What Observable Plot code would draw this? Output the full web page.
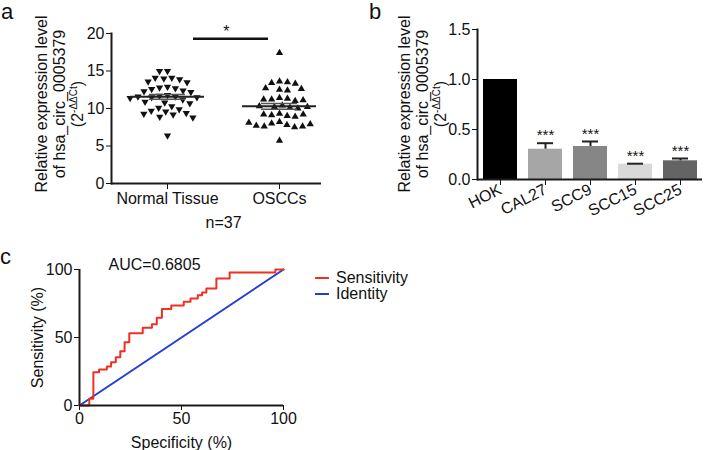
<!DOCTYPE html>
<html><head><meta charset="utf-8">
<script src="https://cdn.jsdelivr.net/npm/d3@7"></script>
<script src="https://cdn.jsdelivr.net/npm/@observablehq/plot@0.6"></script>
<style>
body{margin:0;background:#fff;}
#fig{position:relative;width:707px;height:450px;font-family:"Liberation Sans",Arial,sans-serif;color:#111;overflow:hidden;background:#fff;}
#fig svg{position:absolute;background:transparent;}
.lbl{position:absolute;font-size:22px;line-height:24px;}
.ytitle{position:absolute;width:210px;height:54px;font-size:16px;line-height:18px;text-align:center;transform:rotate(-90deg);white-space:nowrap;}
.ytitle sup{font-size:10px;line-height:0;}
.legend{position:absolute;font-size:16px;line-height:16px;white-space:nowrap;}
.sw{display:inline-block;width:14px;height:2px;vertical-align:middle;margin-right:7px;position:relative;top:-1px;}
</style></head><body>
<div id="fig">
  <div class="lbl" style="left:1px;top:0px;">a</div>
  <div class="lbl" style="left:369px;top:0px;">b</div>
  <div class="lbl" style="left:0px;top:245px;">c</div>
  <div class="ytitle" style="left:-45px;top:77px;">Relative expression level<br>of hsa_circ_0005379<br>(2<sup>-ΔΔCt</sup>)</div>
  <div class="ytitle" style="left:318px;top:77px;">Relative expression level<br>of hsa_circ_0005379<br>(2<sup>-ΔΔCt</sup>)</div>
  <div class="legend" style="left:315px;top:270px;">
    <div><span class="sw" style="background:#ee3124"></span>Sensitivity</div>
    <div><span class="sw" style="background:#1f3fd0"></span>Identity</div>
  </div>
</div>
<script>
// ---------- Panel a data ----------
const groups = ["Normal Tissue", "OSCCs"];
const normalTissue = [15.0, 15.0, 14.1, 14.0, 14.1, 13.9, 13.6, 13.5, 12.9, 12.8, 12.7, 12.6, 12.4, 12.3, 12.2, 11.8, 11.7, 11.6, 11.6, 11.5, 11.5, 11.4, 11.2, 10.9, 10.8, 10.7, 10.3, 10.1, 9.9, 9.7, 9.6, 9.4, 9.3, 9.2, 8.9, 8.8, 6.4];
const osccs = [17.4, 13.6, 13.4, 13.5, 13.3, 12.7, 12.5, 12.4, 12.6, 11.4, 11.2, 11.3, 11.0, 11.2, 11.1, 10.4, 10.2, 10.3, 10.1, 10.0, 10.2, 9.3, 9.1, 9.2, 9.0, 8.9, 9.2, 8.2, 8.0, 7.8, 7.6, 7.5, 7.6, 7.7, 7.9, 8.1, 5.7];
const yTicksA = [0, 5, 10, 15, 20];
const sigBarA = 19.3;
const sigLabelA = "*";
const sampleLabel = "n=37";

// ---------- Panel b data ----------
const cellLines = ["HOK", "CAL27", "SCC9", "SCC15", "SCC25"];
const expression = [1.0, 0.303, 0.33, 0.153, 0.187];
const errorTop = [null, 0.363, 0.38, 0.158, 0.21];
const sigLabels = ["", "***", "***", "***", "***"];
const yTicksB = [0, 0.5, 1.0, 1.5];
const barColors = ["#000000", "#a6a6a6", "#868686", "#d9d9d9", "#646464"];

// ---------- Panel c data ----------
const rocX = [0, 4.8, 6.8, 9.6, 13.4, 15.5, 17.8, 20.0, 22.1, 24.4, 31.0, 35.5, 37.9, 40.4, 45.0, 51.1, 54.4, 58.0, 60.1, 62.2, 67.1, 73.6, 96.0, 100];
const rocY = [0, 4.9, 24.5, 26.5, 28.6, 31.8, 35.5, 39.9, 46.5, 53.2, 57.1, 59.8, 64.5, 71.0, 73.5, 76.2, 78.7, 81.1, 83.0, 86.0, 93.4, 97.8, 100, 100];
const identityX = [0, 100];
const identityY = [0, 100];
const rocTicks = [0, 50, 100];
const aucLabel = "AUC=0.6805";

const FONT = '"Liberation Sans", Arial, sans-serif';
const AX = "#1a1a1a";
const style = {fontFamily: FONT, fontSize: "16px", color: "#111", background: "transparent", overflow: "visible"};
const fig = document.getElementById("fig");

// ---------- Panel a ----------
const aNormal = normalTissue.map(v => ({group: groups[0], value: v}));
const aOscc = osccs.map(v => ({group: groups[1], value: v}));
const aStats = [[groups[0], normalTissue], [groups[1], osccs]].map(([g, vals]) => {
  const m = d3.mean(vals), s = d3.deviation(vals) / Math.sqrt(vals.length);
  return {group: g, mean: m, lo: m - s, hi: m + s};
});
const baseA = groups.map(g => ({group: g, y: 0}));
const sigA = groups.map(g => ({group: g, y: sigBarA, label: sigLabelA}));
const plotA = Plot.plot({
  width: 345, height: 230,
  marginLeft: 110, marginRight: 10, marginTop: 33, marginBottom: 47,
  style,
  fx: {domain: groups, padding: 0, label: sampleLabel, labelAnchor: "center", labelOffset: 44, axis: "bottom", tickSize: 6, tickPadding: 3},
  y: {domain: [0, 20], ticks: yTicksA, tickSize: 5, tickPadding: 2, label: null},
  marks: [
    Plot.ruleY(baseA.slice(0, 1), {fx: "group", y: "y", stroke: AX, strokeWidth: 2}),
    Plot.ruleY(baseA.slice(1), {fx: "group", y: "y", insetRight: 14, stroke: AX, strokeWidth: 2}),
    Plot.frame({anchor: "left", facet: "super", stroke: AX, strokeWidth: 2}),
    Plot.dot(aNormal, Plot.dodgeX({anchor: "middle", padding: 2.6, fx: "group", y: "value", r: 2.7, symbol: "triangle", rotate: 180, fill: "#111"})),
    Plot.dot(aOscc, Plot.dodgeX({anchor: "middle", padding: 2.6, fx: "group", y: "value", r: 2.7, symbol: "triangle", fill: "#111"})),
    Plot.ruleY(aStats, {fx: "group", y: "mean", insetLeft: 19, insetRight: 19, stroke: "#222", strokeWidth: 2}),
    Plot.ruleY(aStats, {fx: "group", y: "lo", insetLeft: 38, insetRight: 38, stroke: "#555", strokeWidth: 1.5}),
    Plot.ruleY(aStats, {fx: "group", y: "hi", insetLeft: 38, insetRight: 38, stroke: "#555", strokeWidth: 1.5}),
    Plot.ruleY(sigA.slice(0, 1), {fx: "group", y: "y", insetLeft: 82, stroke: "#111", strokeWidth: 2.5}),
    Plot.ruleY(sigA.slice(1), {fx: "group", y: "y", insetRight: 67, stroke: "#111", strokeWidth: 2.5}),
    Plot.text(sigA.slice(0, 1), {fx: "group", y: "y", text: "label", frameAnchor: "right", lineAnchor: "bottom", dx: 6, dy: -2, fontSize: 16})
  ]
});
plotA.style.left = "0px"; plotA.style.top = "0px";
fig.appendChild(plotA);

// ---------- Panel b ----------
const bData = cellLines.map((c, i) => ({line: c, value: expression[i], hi: errorTop[i], star: sigLabels[i]}));
const bErr = bData.filter(d => d.hi != null);
const plotB = Plot.plot({
  width: 357, height: 230,
  marginLeft: 127, marginRight: 5, marginTop: 29, marginBottom: 51,
  style,
  x: {domain: cellLines, paddingInner: 0.25, paddingOuter: 0.125, tickRotate: -27, tickSize: 6, tickPadding: 3, label: null},
  y: {domain: [0, 1.5], ticks: yTicksB, tickFormat: ".1f", tickSize: 5, tickPadding: 2, label: null},
  color: {domain: cellLines, range: barColors},
  marks: [
    Plot.barY(bData, {x: "line", y: "value", fill: "line"}),
    Plot.ruleX(bErr, {x: "line", y1: "value", y2: "hi", stroke: "#222", strokeWidth: 2}),
    Plot.tickY(bErr, {x: "line", y: "hi", insetLeft: 9, insetRight: 9, stroke: "#222", strokeWidth: 2}),
    Plot.text(bErr, {x: "line", y: "hi", text: "star", lineAnchor: "bottom", dy: -3, fontSize: 15}),
    Plot.ruleY([0], {stroke: AX, strokeWidth: 2}),
    Plot.frame({anchor: "left", stroke: AX, strokeWidth: 2})
  ]
});
plotB.style.left = "350px"; plotB.style.top = "0px";
fig.appendChild(plotB);

// ---------- Panel c ----------
const roc = rocX.map((x, i) => ({x, y: rocY[i]}));
const ident = identityX.map((x, i) => ({x, y: identityY[i]}));
const plotC = Plot.plot({
  width: 300, height: 200,
  marginLeft: 79, marginRight: 17, marginTop: 19, marginBottom: 45,
  style,
  x: {domain: [0, 100], ticks: rocTicks, tickSize: 5, tickPadding: 2, label: "Specificity (%)", labelArrow: "none", labelAnchor: "center", labelOffset: 42},
  y: {domain: [0, 100], ticks: rocTicks, tickSize: 5, tickPadding: 2, label: "Sensitivity (%)", labelArrow: "none", labelAnchor: "center", labelOffset: 48},
  marks: [
    Plot.line(ident, {x: "x", y: "y", stroke: "#1f3fd0", strokeWidth: 2}),
    Plot.line(roc, {x: "x", y: "y", curve: "step-after", stroke: "#ee3124", strokeWidth: 2}),
    Plot.ruleX([0], {stroke: AX, strokeWidth: 2}),
    Plot.ruleY([0], {stroke: AX, strokeWidth: 2}),
    Plot.text([aucLabel], {frameAnchor: "top-left", text: d => d, textAnchor: "start", lineAnchor: "bottom", dx: 29, dy: 0, fontSize: 16})
  ]
});
plotC.style.left = "0px"; plotC.style.top = "250px";
fig.appendChild(plotC);
</script>
</body></html>
